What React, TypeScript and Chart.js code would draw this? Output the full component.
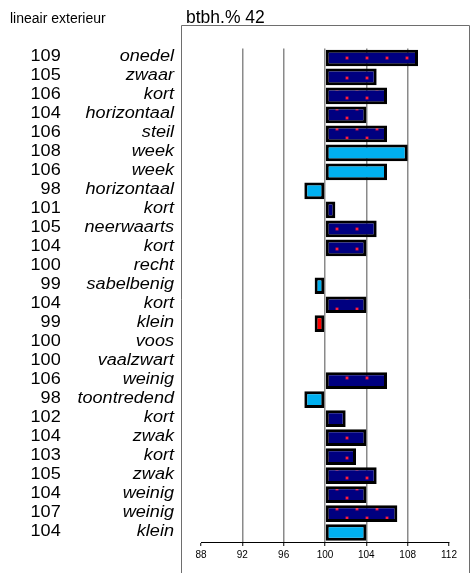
import React, { useEffect, useRef } from "react";
import { Chart, registerables } from "chart.js";

Chart.register(...registerables);

const categories = [
  "onedel", "zwaar", "kort", "horizontaal", "steil", "week", "week", "horizontaal",
  "kort", "neerwaarts", "kort", "recht", "sabelbenig", "kort", "klein", "voos",
  "vaalzwart", "weinig", "toontredend", "kort", "zwak", "kort", "zwak", "weinig",
  "weinig", "klein",
];
const values = [
  109, 105, 106, 104, 106, 108, 106, 98, 101, 105, 104, 100, 99, 104, 99, 100,
  100, 106, 98, 102, 104, 103, 105, 104, 107, 104,
];
// group of each bar: A = patterned navy, B = light blue, C = red
const groups = [
  "A", "A", "A", "A", "A", "B", "B", "B", "A", "A", "A", "A", "B", "A", "C", "A",
  "A", "A", "B", "A", "A", "A", "A", "A", "A", "B",
];
const xTicks = [88, 92, 96, 100, 104, 108, 112];
const baseValue = 100;
const leftTitle = "lineair exterieur";
const chartTitle = "btbh.% 42";

const FONT = '"Liberation Sans", Arial, sans-serif';

function makePattern(): CanvasPattern | string {
  const c = document.createElement("canvas");
  c.width = 20;
  c.height = 20;
  const g = c.getContext("2d");
  if (!g) return "#000080";
  g.fillStyle = "#000080";
  g.fillRect(0, 0, 20, 20);
  g.fillStyle = "#c81048";
  g.fillRect(5.5, 16.5, 3, 3);
  g.fillRect(15.5, 7.5, 3, 3);
  g.fillStyle = "#ff1a3c";
  g.fillRect(6, 17, 2, 2);
  g.fillRect(16, 8, 2, 2);
  const p = g.createPattern(c, "repeat");
  return p || "#000080";
}

export default function App() {
  const ref = useRef<HTMLCanvasElement | null>(null);

  useEffect(() => {
    const canvas = ref.current;
    if (!canvas) return;
    const pattern = makePattern();
    const colorFor = (g: string) =>
      g === "A" ? pattern : g === "B" ? "#00b0f0" : "#ff0000";

    const framePlugin = {
      id: "frame",
      beforeDraw(chart: any) {
        const ctx = chart.ctx;
        ctx.save();
        ctx.strokeStyle = "#6e6e6e";
        ctx.lineWidth = 1;
        ctx.beginPath();
        ctx.moveTo(181.5, 600);
        ctx.lineTo(181.5, 25.5);
        ctx.lineTo(469.5, 25.5);
        ctx.lineTo(469.5, 600);
        ctx.stroke();
        ctx.fillStyle = "#000";
        ctx.textAlign = "left";
        ctx.textBaseline = "alphabetic";
        ctx.font = `14px ${FONT}`;
        ctx.fillText(leftTitle, 10, 23);
        ctx.font = `17.5px ${FONT}`;
        ctx.fillText(chartTitle, 186, 23);
        ctx.restore();
      },
      afterDraw(chart: any) {
        const ctx = chart.ctx;
        const y = chart.scales.y;
        ctx.save();
        ctx.fillStyle = "#000";
        ctx.textAlign = "right";
        ctx.textBaseline = "alphabetic";
        const sx = 1.13;
        categories.forEach((word, i) => {
          const py = y.getPixelForValue(i) + 3;
          ctx.save();
          ctx.translate(60.7, py);
          ctx.scale(sx, 1);
          ctx.font = `16px ${FONT}`;
          ctx.fillText(String(values[i]), 0, 0);
          ctx.restore();
          ctx.save();
          ctx.translate(174, py);
          ctx.scale(sx, 1);
          ctx.font = `italic 16px ${FONT}`;
          ctx.fillText(word, 0, 0);
          ctx.restore();
        });
        ctx.restore();
      },
    };

    const chart = new Chart(canvas, {
      type: "bar",
      data: {
        labels: categories,
        datasets: [
          {
            data: values,
            base: baseValue,
            backgroundColor: groups.map(colorFor) as any,
            borderColor: "#000",
            borderWidth: 3,
            borderSkipped: false,
            barPercentage: 0.88,
            categoryPercentage: 1,
          } as any,
        ],
      },
      options: {
        indexAxis: "y",
        animation: false,
        responsive: false,
        maintainAspectRatio: false,
        devicePixelRatio: 1,
        events: [],
        layout: { padding: { left: 201, right: 25, top: 48.5, bottom: 0 } },
        plugins: {
          legend: { display: false },
          tooltip: { enabled: false },
          title: { display: false },
        },
        scales: {
          y: { type: "category", display: false, offset: true },
          x: {
            type: "linear",
            min: 88,
            max: 112,
            afterFit(scale: any) {
              scale.height = 31;
            },
            afterBuildTicks(scale: any) {
              scale.ticks = xTicks.map((v) => ({ value: v }));
            },
            border: { display: true, color: "#000", width: 1 },
            grid: {
              color: (ctx: any) =>
                ctx.tick && (ctx.tick.value === 88 || ctx.tick.value === 112)
                  ? "rgba(0,0,0,0)"
                  : "#8a8a8a",
              lineWidth: 1.5,
              drawTicks: true,
              tickLength: 4,
              tickColor: "#000",
              tickWidth: 1,
            },
            ticks: {
              color: "#000",
              padding: 3,
              font: { family: FONT, size: 10 },
              maxRotation: 0,
              autoSkip: false,
            },
          },
        },
      },
      plugins: [framePlugin],
    });
    return () => chart.destroy();
  }, []);

  return (
    <div style={{ position: "absolute", left: 0, top: 0, width: 474, height: 573, background: "#fff" }}>
      <canvas ref={ref} width={474} height={573} style={{ display: "block" }} />
    </div>
  );
}
